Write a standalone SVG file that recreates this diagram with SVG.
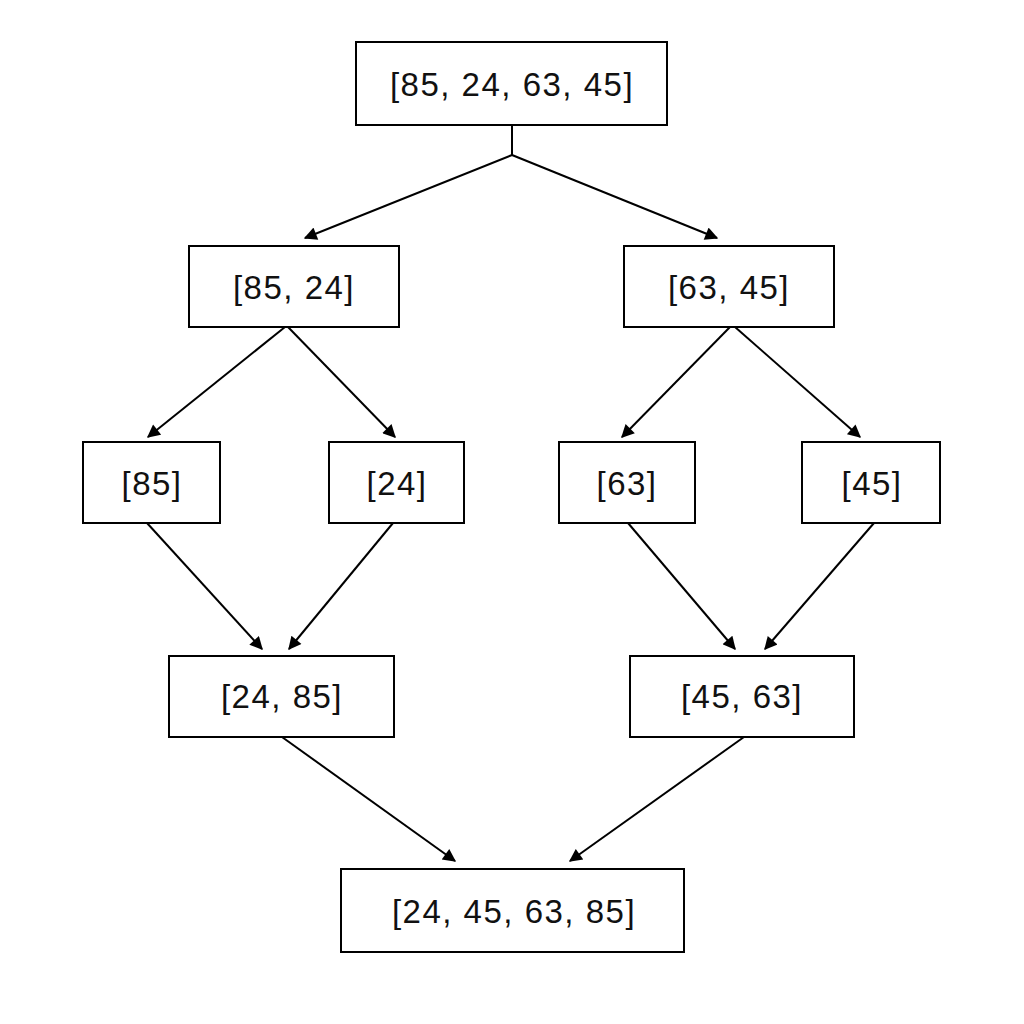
<svg xmlns="http://www.w3.org/2000/svg" width="1024" height="1024" viewBox="0 0 1024 1024">
<style>
.n rect{fill:#fff;stroke:#000;stroke-width:2}
text{font-family:"Liberation Sans",Arial,sans-serif;font-size:33px;letter-spacing:1.5px;text-anchor:middle;dominant-baseline:central;fill:#111}
.c line,.c path{stroke:#000;stroke-width:2;fill:none}
</style>
<defs><marker id="a" viewBox="0 0 10 10" refX="9" refY="5" markerWidth="15" markerHeight="13" markerUnits="userSpaceOnUse" orient="auto"><path d="M0,0L10,5L0,10z" fill="#000"/></marker></defs>
<rect width="1024" height="1024" fill="#fff"/>
<g class="c">
<path d="M512,125V155"/>
<line x1="512" y1="155" x2="305" y2="238" marker-end="url(#a)"/>
<line x1="512" y1="155" x2="717" y2="238" marker-end="url(#a)"/>
<line x1="285" y1="327" x2="148" y2="437" marker-end="url(#a)"/>
<line x1="288" y1="327" x2="395" y2="437" marker-end="url(#a)"/>
<line x1="730" y1="327" x2="622" y2="437" marker-end="url(#a)"/>
<line x1="735" y1="327" x2="860" y2="437" marker-end="url(#a)"/>
<line x1="147" y1="523" x2="262" y2="649" marker-end="url(#a)"/>
<line x1="393" y1="523" x2="289" y2="649" marker-end="url(#a)"/>
<line x1="628" y1="523" x2="735" y2="649" marker-end="url(#a)"/>
<line x1="874" y1="523" x2="765" y2="649" marker-end="url(#a)"/>
<line x1="282" y1="737" x2="455" y2="861" marker-end="url(#a)"/>
<line x1="744" y1="737" x2="570" y2="861" marker-end="url(#a)"/>
</g>
<g id="n1" class="n"><rect x="356" y="42" width="311" height="83"/><text x="512" y="84">[85, 24, 63, 45]</text></g>
<g id="n2" class="n"><rect x="189" y="246" width="210" height="81"/><text x="294" y="287">[85, 24]</text></g>
<g id="n3" class="n"><rect x="624" y="246" width="210" height="81"/><text x="729" y="287">[63, 45]</text></g>
<g id="n4" class="n"><rect x="83" y="442" width="137" height="81"/><text x="152" y="483">[85]</text></g>
<g id="n5" class="n"><rect x="329" y="442" width="135" height="81"/><text x="397" y="483">[24]</text></g>
<g id="n6" class="n"><rect x="559" y="442" width="136" height="81"/><text x="627" y="483">[63]</text></g>
<g id="n7" class="n"><rect x="802" y="442" width="138" height="81"/><text x="872" y="483">[45]</text></g>
<g id="n8" class="n"><rect x="169" y="656" width="225" height="81"/><text x="282" y="696">[24, 85]</text></g>
<g id="n9" class="n"><rect x="630" y="656" width="224" height="81"/><text x="742" y="696">[45, 63]</text></g>
<g id="n10" class="n"><rect x="341" y="869" width="343" height="83"/><text x="514" y="911">[24, 45, 63, 85]</text></g>
</svg>
